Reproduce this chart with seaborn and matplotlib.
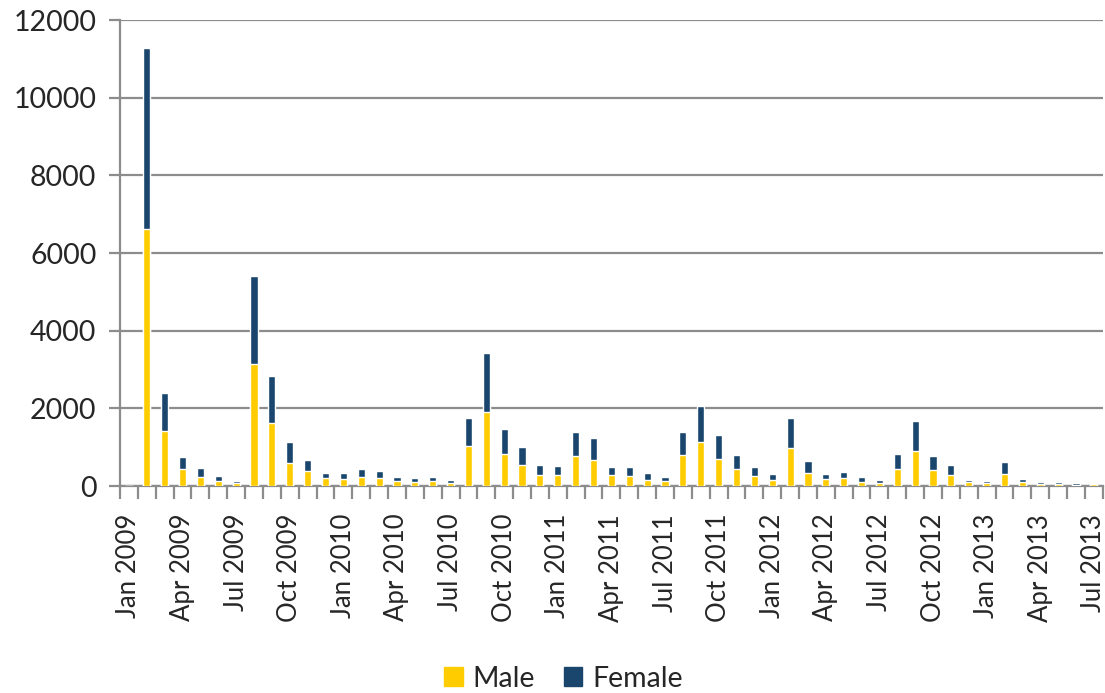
import pandas as pd
import matplotlib
matplotlib.use("Agg")
import matplotlib.pyplot as plt
from matplotlib.patches import Patch
from matplotlib.ticker import FixedLocator
import seaborn as sns

# meses de ene 2009 a jul 2013
meses = pd.date_range("2009-01-01", "2013-07-01", freq="MS").strftime("%b %Y").tolist()

male = [0, 6620, 1420, 430, 240, 130, 70, 3150, 1610, 590, 390, 200,
        180, 240, 215, 120, 105, 130, 80, 1020, 1915, 815, 550, 290,
        285, 780, 660, 275, 265, 165, 130, 800, 1135, 695, 440, 260,
        165, 970, 345, 170, 195, 110, 70, 440, 910, 405, 290, 95,
        70, 310, 103, 55, 40, 15, 45]
female = [0, 4660, 980, 325, 225, 128, 67, 2250, 1235, 535, 270, 143,
          146, 206, 171, 112, 101, 102, 74, 725, 1520, 655, 455, 260,
          221, 620, 576, 206, 216, 161, 102, 600, 935, 610, 350, 229,
          135, 780, 290, 148, 166, 113, 84, 384, 772, 359, 242, 68,
          59, 305, 72, 45, 54, 50, 27]

color_male = "#FFCC00"
color_female = "#1A466E"
gris = "#8C8C8C"

df = pd.DataFrame({"mes": meses, "Male": male, "Female": female})
df["total"] = df["Male"] + df["Female"]

sns.set_style("white")
plt.rcParams["font.family"] = ["Lato", "DejaVu Sans"]

fig, ax = plt.subplots(figsize=(11.05, 6.93), dpi=100)
fig.subplots_adjust(left=0.1086, right=0.998, top=0.9711, bottom=0.2987)

sns.barplot(data=df, x="mes", y="total", order=meses, color=color_female,
            width=0.4, saturation=1, ax=ax, zorder=3)
sns.barplot(data=df, x="mes", y="Male", order=meses, color=color_male,
            width=0.4, saturation=1, ax=ax, zorder=4)

ax.set_xlim(-0.5, len(meses) - 0.5)
ax.set_ylim(0, 12000)
ax.set_yticks(range(0, 12001, 2000))
ax.yaxis.grid(True, color=gris, linewidth=1.6, zorder=0)
ax.set_axisbelow(True)

# etiquetas cada 3 meses, marcas en los limites de cada mes
pos = list(range(0, len(meses), 3))
ax.set_xticks(pos)
ax.set_xticklabels([meses[i] for i in pos], rotation=90, fontsize=18.5)
ax.xaxis.set_minor_locator(FixedLocator([i - 0.5 for i in range(len(meses) + 1)]))
ax.tick_params(axis="x", which="major", length=0, pad=20)
ax.tick_params(axis="x", which="minor", length=9, width=1.6, color=gris, bottom=True)
ax.tick_params(axis="y", length=8, width=1.6, color=gris, labelsize=20.5, pad=9, left=True)

for lado in ["top", "right"]:
    ax.spines[lado].set_visible(False)
for lado in ["left", "bottom"]:
    ax.spines[lado].set_color(gris)
    ax.spines[lado].set_linewidth(1.6)

ax.set_xlabel("")
ax.set_ylabel("")

handles = [Patch(color=color_male, label="Male"), Patch(color=color_female, label="Female")]
fig.legend(handles=handles, loc="lower center", bbox_to_anchor=(0.51, -0.035), ncol=2,
           frameon=False, fontsize=20.5, handlelength=0.65, handleheight=0.65,
           handletextpad=0.35, columnspacing=1.0)

fig.savefig("out.png", dpi=100)
